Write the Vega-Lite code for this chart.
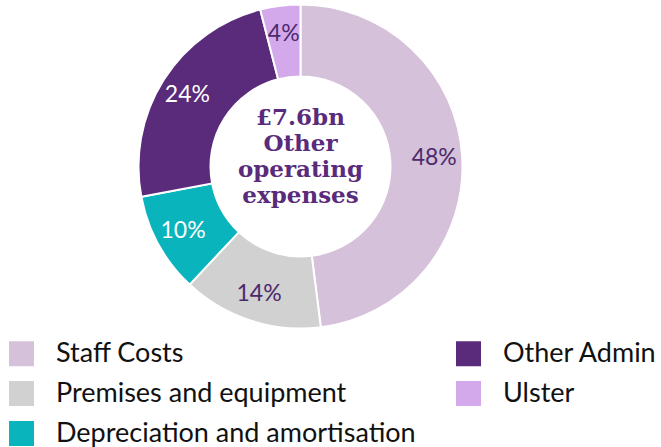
{
  "$schema": "https://vega.github.io/schema/vega-lite/v6.json",
  "width": 601,
  "height": 329,
  "padding": 0,
  "background": "white",
  "config": {"view": {"stroke": null}},
  "layer": [
    {
      "data": {"values": [
        {"cat": "Staff Costs", "value": 48, "order": 1, "label": "48%"},
        {"cat": "Premises and equipment", "value": 14, "order": 2, "label": "14%"},
        {"cat": "Depreciation and amortisation", "value": 10, "order": 3, "label": "10%"},
        {"cat": "Other Admin", "value": 24, "order": 4, "label": "24%"},
        {"cat": "Ulster", "value": 4, "order": 5, "label": "4%"}
      ]},
      "encoding": {
        "theta": {"field": "value", "type": "quantitative", "stack": true},
        "order": {"field": "order", "type": "quantitative"}
      },
      "layer": [
        {
          "mark": {"type": "arc", "innerRadius": 90, "outerRadius": 162, "stroke": "white", "strokeWidth": 2},
          "encoding": {
            "color": {
              "field": "cat", "type": "nominal",
              "scale": {
                "domain": ["Staff Costs", "Premises and equipment", "Depreciation and amortisation", "Other Admin", "Ulster"],
                "range": ["#D5C1D9", "#D1D1D1", "#09B4BC", "#5A2A7B", "#D4A9EC"]
              },
              "legend": {
                "title": null,
                "orient": "none",
                "legendX": 8,
                "legendY": 338,
                "direction": "vertical",
                "columns": 2,
                "columnPadding": 39,
                "rowPadding": 12,
                "symbolType": "square",
                "symbolSize": 625,
                "symbolStrokeWidth": 0,
                "symbolOpacity": 1,
                "labelFont": "Lato",
                "labelFontSize": 27,
                "labelColor": "#111111",
                "labelOffset": 21,
                "labelLimit": 500
              }
            }
          }
        },
        {
          "mark": {"type": "text", "radius": 134, "font": "Lato", "fontSize": 23},
          "encoding": {
            "text": {"field": "label"},
            "color": {
              "condition": {"test": "datum.cat === 'Other Admin' || datum.cat === 'Depreciation and amortisation'", "value": "white"},
              "value": "#4B2A6C"
            }
          }
        }
      ]
    },
    {
      "data": {"values": [{"t": ["£7.6bn", "Other", "operating", "expenses"]}]},
      "mark": {"type": "text", "font": "DejaVu Serif", "fontWeight": "bold", "fontSize": 23, "lineHeight": 26, "color": "#5A2A7B", "align": "center", "baseline": "middle", "dy": -49},
      "encoding": {"text": {"field": "t"}}
    }
  ]
}
